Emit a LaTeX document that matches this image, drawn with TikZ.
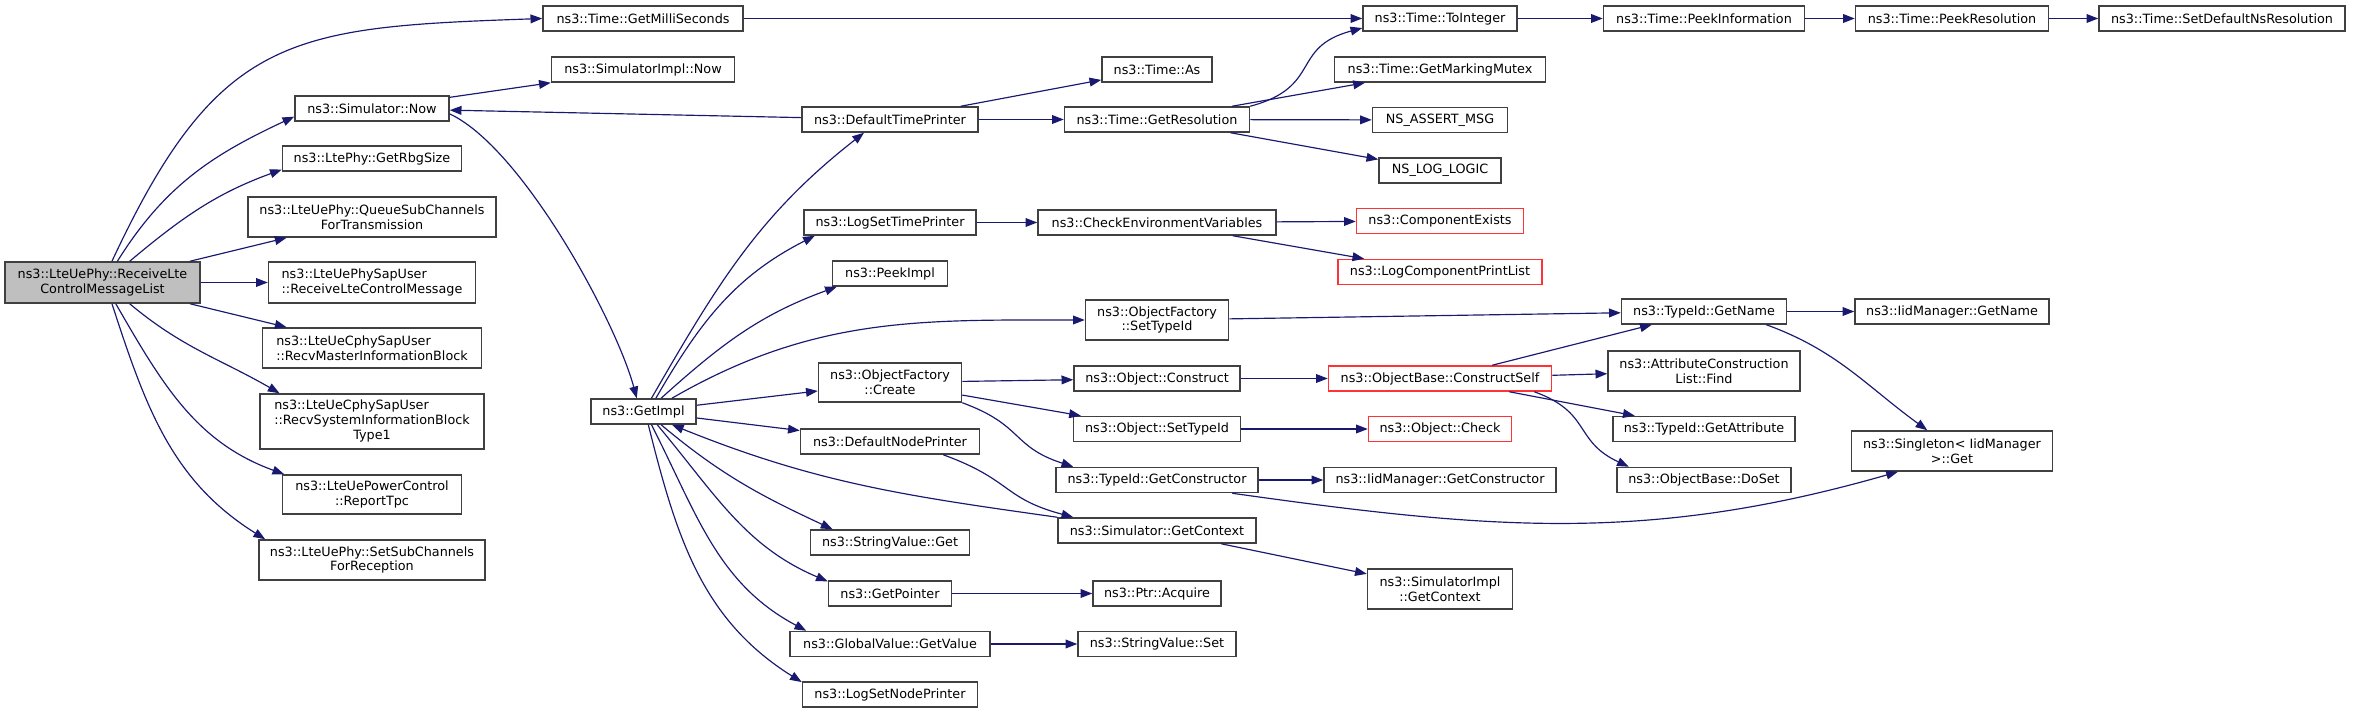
\documentclass[tikz,border=0pt]{standalone}
\usepackage{fontspec}
\setmainfont{DejaVu Sans}
\usetikzlibrary{arrows.meta}

% one pixel of the call graph
\newcommand{\pxu}{0.03cm}

\begin{document}
\begin{tikzpicture}[x=0.03cm, y=0.03cm,
    fn/.style={draw=boxgray, line width=1.3pt, inner sep=0pt, minimum height=25*\pxu,
               font={\fontsize{10.9}{12.5}\selectfont}, align=center},
    fnred/.style={fn, draw=boxred},
    fnmain/.style={fn, fill=boxfill},
    wd/.style={minimum width=#1*\pxu},
    ht/.style={minimum height=#1*\pxu},
    call/.style={draw=edgeblue, line width=1pt, -{Triangle[length=10pt, width=7.5pt]}}]

%my colors
\definecolor{edgeblue}{rgb}{0.098, 0.098, 0.439}
\definecolor{boxgray}{rgb}{0.25, 0.25, 0.25}
\definecolor{boxred}{rgb}{1.0, 0.2, 0.2}
\definecolor{boxfill}{rgb}{0.75, 0.75, 0.75}

\useasboundingbox (0,0) rectangle (2357,-713);

    % Caller
    \node[fnmain, wd=195, ht=41] (main) at (102.5,-282.5) {ns3::LteUePhy::ReceiveLte\\ControlMessageList};

    % First column of callees
    \node[fn, wd=154] (now) at (372,-108.5) {ns3::Simulator::Now};
    \node[fn, wd=179] (rbg) at (372,-158.5) {ns3::LtePhy::GetRbgSize};
    \node[fn, wd=248, ht=40] (queue) at (372,-217) {ns3::LteUePhy::QueueSubChannels\\ForTransmission};
    \node[fn, wd=207, ht=41, align=left] (rcv) at (372,-282.5) {ns3::LteUePhySapUser\\::ReceiveLteControlMessage};
    \node[fn, wd=219, ht=40, align=left] (mib) at (372,-348) {ns3::LteUeCphySapUser\\::RecvMasterInformationBlock};
    \node[fn, wd=224, ht=55] (sib) at (372,-421.5) {\begin{tabular}{@{}l@{}}ns3::LteUeCphySapUser\\::RecvSystemInformationBlock\\\multicolumn{1}{@{}c@{}}{Type1}\end{tabular}};
    \node[fn, wd=179, ht=39] (tpc) at (372,-494.5) {ns3::LteUePowerControl\\::ReportTpc};
    \node[fn, wd=226, ht=40] (ssc) at (372,-560) {ns3::LteUePhy::SetSubChannels\\ForReception};

    % Second column
    \node[fn, wd=200] (ms) at (643,-18.5) {ns3::Time::GetMilliSeconds};
    \node[fn, wd=183] (simplNow) at (643,-69.5) {ns3::SimulatorImpl::Now};
    \node[fn, wd=105] (getImpl) at (643.5,-411.5) {ns3::GetImpl};

    % Third column
    \node[fn, wd=176] (dtp) at (890,-119.5) {ns3::DefaultTimePrinter};
    \node[fn, wd=172] (lstp) at (890,-222.5) {ns3::LogSetTimePrinter};
    \node[fn, wd=115] (peekImpl) at (890,-273.5) {ns3::PeekImpl};
    \node[fn, wd=143, ht=39] (ofc) at (890,-382.5) {ns3::ObjectFactory\\::Create};
    \node[fn, wd=179] (dnp) at (890,-441.5) {ns3::DefaultNodePrinter};
    \node[fn, wd=159] (svg) at (890,-542.5) {ns3::StringValue::Get};
    \node[fn, wd=123] (gp) at (890,-593.5) {ns3::GetPointer};
    \node[fn, wd=200] (gv) at (890,-644) {ns3::GlobalValue::GetValue};
    \node[fn, wd=175] (lsnp) at (890,-694.5) {ns3::LogSetNodePrinter};

    % Fourth column
    \node[fn, wd=110] (tas) at (1157,-69.5) {ns3::Time::As};
    \node[fn, wd=185] (gres) at (1157,-119.5) {ns3::Time::GetResolution};
    \node[fn, wd=238] (cev) at (1157,-222.5) {ns3::CheckEnvironmentVariables};
    \node[fn, wd=143, ht=40] (ofsti) at (1157,-320) {ns3::ObjectFactory\\::SetTypeId};
    \node[fn, wd=166] (ocons) at (1157,-378.5) {ns3::Object::Construct};
    \node[fn, wd=167] (osti) at (1157,-429) {ns3::Object::SetTypeId};
    \node[fn, wd=202] (tgc) at (1157,-480) {ns3::TypeId::GetConstructor};
    \node[fn, wd=198] (sgc) at (1157,-530.5) {ns3::Simulator::GetContext};
    \node[fn, wd=128] (acq) at (1157,-593.5) {ns3::Ptr::Acquire};
    \node[fn, wd=158] (svs) at (1157,-644) {ns3::StringValue::Set};

    % Fifth column
    \node[fn, wd=154] (toInt) at (1440,-18.5) {ns3::Time::ToInteger};
    \node[fn, wd=211] (gmm) at (1440,-69.5) {ns3::Time::GetMarkingMutex};
    \node[fn, wd=135] (nsAssert) at (1440,-120) {NS\_ASSERT\_MSG};
    \node[fn, wd=122] (nsLog) at (1440,-170.5) {NS\_LOG\_LOGIC};
    \node[fnred, wd=167] (ce) at (1440,-221) {ns3::ComponentExists};
    \node[fnred, wd=204] (lcpl) at (1440,-272) {ns3::LogComponentPrintList};
    \node[fnred, wd=223] (cself) at (1440,-378.5) {ns3::ObjectBase::ConstructSelf};
    \node[fnred, wd=143] (ocheck) at (1440,-429) {ns3::Object::Check};
    \node[fn, wd=232] (igc) at (1440,-480) {ns3::IidManager::GetConstructor};
    \node[fn, wd=145, ht=40] (sic) at (1440,-589) {ns3::SimulatorImpl\\::GetContext};

    % Sixth column
    \node[fn, wd=201] (peekInfo) at (1704,-18.5) {ns3::Time::PeekInformation};
    \node[fn, wd=165] (tgn) at (1704,-311.5) {ns3::TypeId::GetName};
    \node[fn, wd=192, ht=40] (acl) at (1704,-371) {ns3::AttributeConstruction\\List::Find};
    \node[fn, wd=182] (tga) at (1704,-429) {ns3::TypeId::GetAttribute};
    \node[fn, wd=174] (doSet) at (1704,-480) {ns3::ObjectBase::DoSet};

    % Last columns
    \node[fn, wd=193] (peekRes) at (1952,-18.5) {ns3::Time::PeekResolution};
    \node[fn, wd=194] (ign) at (1952,-311.5) {ns3::IidManager::GetName};
    \node[fn, wd=201, ht=40] (sgt) at (1952,-451) {ns3::Singleton< IidManager\\>::Get};
    \node[fn, wd=246] (setDef) at (2222,-18.5) {ns3::Time::SetDefaultNsResolution};

    % Calls from the caller
    \draw[call] (main.66) to[out=65, in=182, looseness=1.3] (ms.west);
    \draw[call] (main.55) to[out=58, in=205] (now.186);
    \draw[call] (main.38) to[out=40, in=200] (rbg.187);
    \draw[call] (main) -- (queue);
    \draw[call] (main) -- (rcv);
    \draw[call] (main) -- (mib);
    \draw[call] (main.-38) to[out=-40, in=150] (sib.163);
    \draw[call] (main.-58) to[out=-60, in=160] (tpc.167);
    \draw[call] (main.-66) to[out=-72, in=148] (ssc.169);

    % Simulator::Now and GetImpl
    \draw[call] (now) -- (simplNow);
    \draw[call] (now.-4) to[out=-25, in=105, looseness=0.6] (getImpl.117);
    \draw[call] (dtp) -- (now);
    \draw[call] (getImpl.59) to[out=60, in=218] (dtp.-153);
    \draw[call] (getImpl.47) to[out=60, in=207] (lstp.190);
    \draw[call] (getImpl.37) to[out=42, in=200] (peekImpl.194);
    \draw[call] (getImpl.25) to[out=30, in=180] (ofsti.west);
    \draw[call] (getImpl) -- (ofc);
    \draw[call] (getImpl) -- (dnp);
    \draw[call] (sgc.north west) to[out=172, in=-22] (getImpl.-25);
    \draw[call] (getImpl.-37) to[out=-40, in=155] (svg.167);
    \draw[call] (getImpl.-44) to[out=-50, in=157] (gp.169);
    \draw[call] (getImpl.-59) to[out=-63, in=152] (gv.171);
    \draw[call] (getImpl.-70) to[out=-76, in=148] (lsnp.172);

    % Time calls
    \draw[call] (ms) -- (toInt);
    \draw[call] (dtp) -- (tas);
    \draw[call] (dtp) -- (gres);
    \draw[call] (gres.north east) to[out=15, in=195, looseness=1.4] (toInt.187);
    \draw[call] (gres) -- (gmm);
    \draw[call] (gres) -- (nsAssert);
    \draw[call] (gres) -- (nsLog);
    \draw[call] (toInt) -- (peekInfo);
    \draw[call] (peekInfo) -- (peekRes);
    \draw[call] (peekRes) -- (setDef);

    % Logging
    \draw[call] (lstp) -- (cev);
    \draw[call] (cev) -- (ce);
    \draw[call] (cev) -- (lcpl);

    % Objects and type ids
    \draw[call] (ofsti) -- (tgn);
    \draw[call] (ofc) -- (ocons);
    \draw[call] (ofc) -- (osti);
    \draw[call] (ofc.south east) to[out=-20, in=162, looseness=1.3] (tgc.171);
    \draw[call] (dnp.-14) to[out=-20, in=165, looseness=1.3] (sgc.171);
    \draw[call] (ocons) -- (cself);
    \draw[call] (cself) -- (tgn);
    \draw[call] (cself) -- (acl);
    \draw[call] (cself) -- (tga);
    \draw[call] (cself.-8) to[out=-20, in=155, looseness=1.3] (doSet.170);
    \draw[call] (osti) -- (ocheck);
    \draw[call] (tgc) -- (igc);
    \draw[call] (tgc.-10) to[out=-8, in=196] (sgt.201);
    \draw[call] (sgc) -- (sic);
    \draw[call] (gp) -- (acq);
    \draw[call] (gv) -- (svs);
    \draw[call] (tgn) -- (ign);
    \draw[call] (tgn.-12) to[out=-20, in=144] (sgt.140);

\end{tikzpicture}
\end{document}
